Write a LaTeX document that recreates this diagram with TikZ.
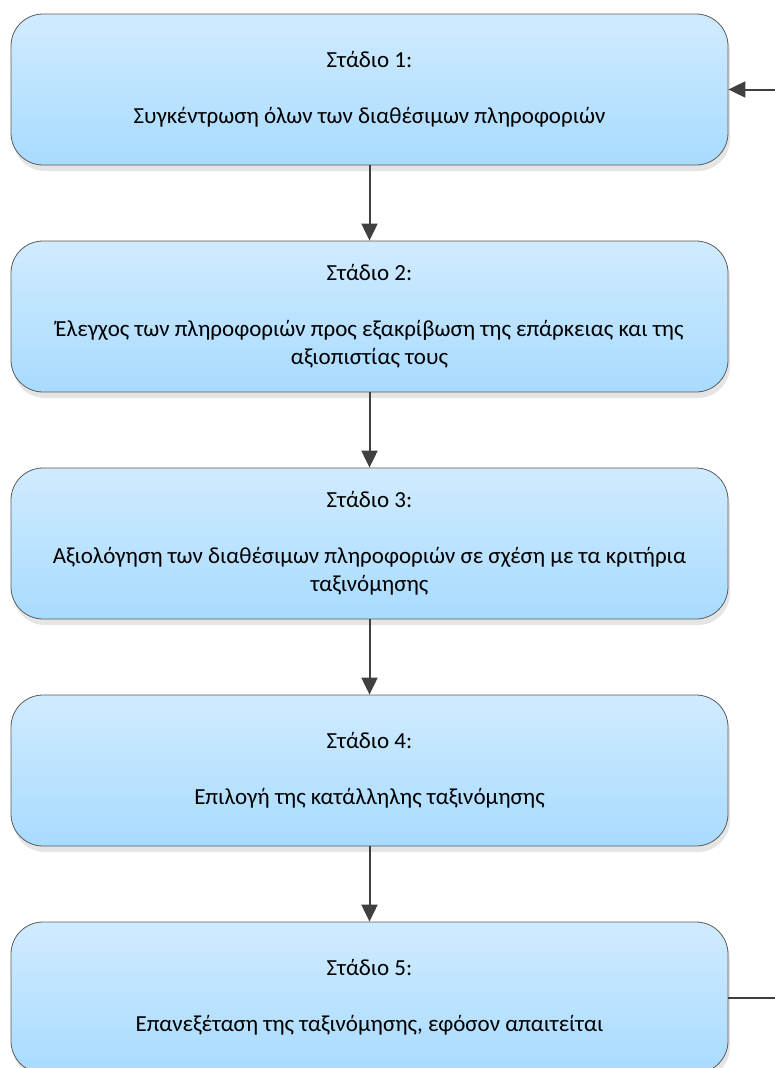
\documentclass[tikz,border=0pt]{standalone}
\usepackage{fontspec}
\setmainfont{Carlito}
\usepackage{tikz}
\usetikzlibrary{arrows.meta,positioning,shadows}
\definecolor{stagetop}{RGB}{208,235,255}
\definecolor{stagebot}{RGB}{168,219,255}
\definecolor{stageline}{RGB}{90,90,90}
\definecolor{flowline}{RGB}{64,64,64}

\begin{document}
\begin{tikzpicture}[->,>={Triangle[length=17pt,width=16pt]},node distance=227pt,
        stage/.style={draw=stageline,line width=0.8pt,rounded corners=32pt,
            top color=stagetop,bottom color=stagebot,
            minimum width=717pt,minimum height=151pt,align=center,
            font=\fontsize{23pt}{28pt}\selectfont,
            drop shadow={shadow xshift=2pt,shadow yshift=-6pt,fill=black,opacity=0.1}},
        flow/.style={draw=flowline,line width=2pt}]

    \useasboundingbox (0,0) rectangle (775pt,-1068pt);

    \node[stage] (s1) at (369.5pt,-89.5pt) {Στάδιο 1:\\[28pt]Συγκέντρωση όλων των διαθέσιμων πληροφοριών};
    \node[stage] (s2) [below of=s1] {Στάδιο 2:\\[28pt]Έλεγχος των πληροφοριών προς εξακρίβωση της επάρκειας και της\\αξιοπιστίας τους};
    \node[stage] (s3) [below of=s2] {Στάδιο 3:\\[28pt]Αξιολόγηση των διαθέσιμων πληροφοριών σε σχέση με τα κριτήρια\\ταξινόμησης};
    \node[stage] (s4) [below of=s3] {Στάδιο 4:\\[28pt]Επιλογή της κατάλληλης ταξινόμησης};
    \node[stage] (s5) [below of=s4] {Στάδιο 5:\\[28pt]Επανεξέταση της ταξινόμησης, εφόσον απαιτείται};

    \coordinate (loopin) at (775pt,0 |- s1);
    \coordinate (loopout) at (775pt,0 |- s5);

    \path (s1) edge[flow] (s2);
    \path (s2) edge[flow] (s3);
    \path (s3) edge[flow] (s4);
    \path (s4) edge[flow] (s5);
    \path (loopin) edge[flow] (s1);
    \draw[flow,-] (s5) -- (loopout);

\end{tikzpicture}
\end{document}
